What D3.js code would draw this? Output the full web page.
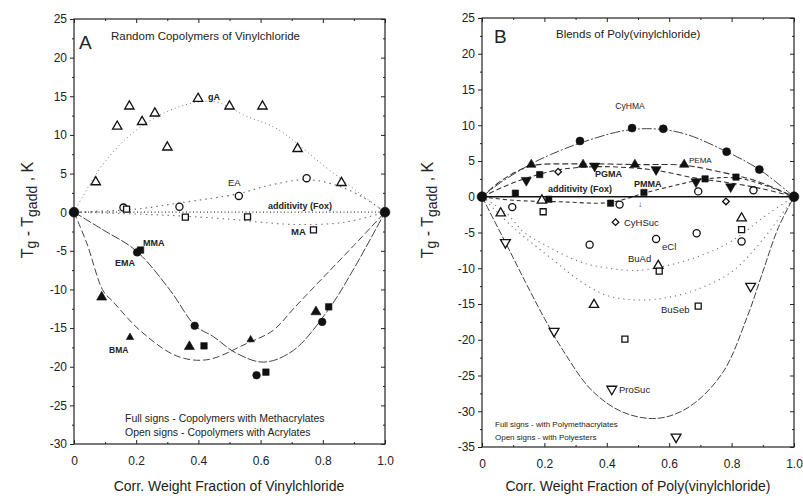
<!DOCTYPE html>
<html>
<head>
<meta charset="utf-8">
<script src="https://cdn.jsdelivr.net/npm/d3@7"></script>
<style>
  body { margin: 0; background: #fff; }
  svg { font-family: "Liberation Sans", Arial, sans-serif; }
  .tick text { font-size: 12px; fill: #222; }
  .domain, .tick line { stroke: #222; }
</style>
</head>
<body>
<div id="chart"></div>
<script>
// ---- shared ticks
const xTicks = [0, 0.2, 0.4, 0.6, 0.8, 1.0];
const xTickLabels = ["0", "0.2", "0.4", "0.6", "0.8", "1.0"];
const xMinor = [0.1, 0.3, 0.5, 0.7, 0.9];

// ---- panel A : random copolymers of vinylchloride
const aYTicks = [25, 20, 15, 10, 5, 0, -5, -10, -15, -20, -25, -30];
const aEnds = [[0, 0], [1, 0]];
const aTriOpen = [[0.07, 3.9], [0.139, 11.1], [0.178, 13.7], [0.219, 11.7], [0.26, 12.8], [0.30, 8.4],
                  [0.399, 14.7], [0.50, 13.7], [0.606, 13.7], [0.719, 8.2], [0.86, 3.8]];
const aCircOpen = [[0.159, 0.6], [0.339, 0.7], [0.53, 2.1], [0.748, 4.4]];
const aSqOpen = [[0.169, 0.4], [0.358, -0.65], [0.558, -0.6], [0.77, -2.3]];
const aCircFill = [[0.203, -5.2], [0.388, -14.7], [0.587, -21.1], [0.798, -14.2]];
const aSqFill = [[0.214, -4.9], [0.418, -17.3], [0.617, -20.7], [0.819, -12.25]];
const aTriFill = [[0.089, -11.0], [0.371, -17.4], [0.778, -12.9]];
const aTriFillSmall = [[0.18, -16.2], [0.568, -16.5]];
// fitted curves
const aCurveGA = [[0, 0], [0.093, 6.2], [0.2, 10.6], [0.335, 13.6], [0.45, 14.3], [0.555, 12.4],
                  [0.652, 10.8], [0.81, 5.8], [0.92, 2.4], [1, 0]];
const aCurveEA = [[0, 0], [0.2, 0.4], [0.34, 1.2], [0.53, 2.4], [0.62, 3.4], [0.75, 4.2], [0.85, 3.4], [0.93, 1.9], [1, 0]];
const aCurveMA = [[0, 0], [0.3, -0.4], [0.5, -0.9], [0.6, -1.3], [0.72, -1.6], [0.87, -1.3], [1, 0]];
const aCurveM1 = [[0, 0], [0.094, -2.3], [0.2, -5.0], [0.309, -10.1], [0.39, -14.7], [0.448, -16.1],
                  [0.52, -18.2], [0.61, -19.4], [0.705, -17.9], [0.82, -12.5], [0.9, -7.3], [1, 0]];
const aCurveM2 = [[0, 0], [0.041, -4.0], [0.094, -10.2], [0.126, -11.6], [0.212, -15.3], [0.33, -18.6],
                  [0.427, -19.1], [0.555, -17.0], [0.64, -15.3], [0.71, -12.3], [0.8, -8.5], [0.9, -4.3], [1, 0]];
const aAdd = [[0, 0], [1, 0]];

// ---- panel B : blends of poly(vinylchloride)
const bYTicks = [25, 20, 15, 10, 5, 0, -5, -10, -15, -20, -25, -30, -35];
const bEnds = [[0, 0], [1, 0]];
const bCyHMA = [[0.314, 7.8], [0.481, 9.6], [0.581, 9.5], [0.784, 6.3], [0.889, 3.8]];
const bPEMA = [[0.158, 4.5], [0.324, 4.5], [0.49, 4.5], [0.648, 4.5]];
const bPGMA = [[0.142, 2.3], [0.361, 4.3], [0.558, 3.8], [0.686, 2.1], [0.797, 1.4]];
const bPMMA = [[0.107, 0.5], [0.185, 3.1], [0.214, -0.35], [0.412, -0.9], [0.519, 0.6], [0.715, 2.5], [0.814, 2.75]];
const bTriOpen = [[0.06, -2.3], [0.192, -0.5], [0.359, -15.1], [0.565, -9.65], [0.832, -3.0]];
const bSqOpen = [[0.196, -2.1], [0.458, -19.9], [0.568, -10.4], [0.693, -15.3], [0.832, -4.6]];
const bCircOpen = [[0.097, -1.45], [0.345, -6.7], [0.441, -1.1], [0.558, -5.9], [0.688, -5.1],
                   [0.693, 0.75], [0.832, -6.25], [0.87, 0.9]];
const bDiaOpen = [[0.244, 3.5], [0.428, -3.55], [0.782, -0.65]];
const bDownOpen = [[0.075, -6.4], [0.231, -18.8], [0.416, -26.9], [0.622, -33.6], [0.861, -12.5]];
const bCurveCyHMA = [[0, 0], [0.06, 2.0], [0.158, 4.6], [0.22, 5.9], [0.314, 7.5], [0.45, 9.2], [0.55, 9.5],
                     [0.65, 8.8], [0.784, 6.3], [0.889, 3.8], [1, 0]];
const bCurvePEMA = [[0, 0], [0.07, 2.5], [0.158, 4.3], [0.3, 4.6], [0.5, 4.5], [0.65, 4.4], [0.75, 3.6], [0.88, 2.2], [1, 0]];
const bCurvePGMA = [[0, 0], [0.07, 1.4], [0.142, 2.6], [0.25, 3.8], [0.361, 4.2], [0.46, 4.1], [0.558, 3.7],
                    [0.686, 2.6], [0.8, 1.9], [0.9, 1.1], [1, 0]];
const bCurvePMMA = [[0, 0], [0.1, -0.5], [0.25, -0.7], [0.41, -0.8], [0.52, 0.5], [0.62, 1.6], [0.72, 2.5],
                    [0.82, 2.6], [0.92, 1.4], [1, 0]];
const bCurveBuAd = [[0, 0], [0.083, -2.5], [0.131, -4.85], [0.2, -6.7], [0.308, -9.0], [0.372, -9.75],
                    [0.5, -10.3], [0.624, -9.3], [0.72, -7.9], [0.8, -6.2], [0.92, -2.3], [1, 0]];
const bCurveBuSeb = [[0, 0], [0.1, -4.3], [0.233, -9.0], [0.308, -11.6], [0.393, -13.7], [0.479, -14.4],
                     [0.58, -14.2], [0.688, -13.0], [0.8, -10.5], [0.9, -6.0], [1, 0]];
const bCurveProSuc = [[0, 0], [0.04, -3.4], [0.08, -6.8], [0.14, -12.0], [0.2, -17.0], [0.26, -21.5],
                      [0.35, -27.0], [0.45, -30.1], [0.56, -31.0], [0.66, -29.5], [0.77, -24.7],
                      [0.85, -16.8], [0.9, -10.5], [0.95, -4.3], [1, 0]];
const bAdd = [[0, 0], [1, 0]];

const W = 803, H = 498;
const svg = d3.select("#chart").append("svg").attr("width", W).attr("height", H);

function panel(px, py, yTicks, yDomain, titleX) {
  const x = d3.scaleLinear().domain([0, 1]).range(px);
  const y = d3.scaleLinear().domain(yDomain).range(py);
  const g = svg.append("g");
  const yMinor = d3.range(yDomain[0] + 2.5, yDomain[1], 5);

  // frame
  g.append("rect").attr("x", px[0]).attr("y", py[1])
    .attr("width", px[1] - px[0]).attr("height", py[0] - py[1])
    .attr("fill", "none").attr("stroke", "#222").attr("stroke-width", 1.2);

  const fmtY = d => String(d);
  g.append("g").attr("transform", `translate(${px[0]},0)`)
    .call(d3.axisLeft(y).tickValues(yTicks).tickFormat(fmtY).tickSize(4).tickPadding(3))
    .call(s => s.select(".domain").remove());
  g.append("g").attr("transform", `translate(${px[0]},0)`)
    .call(d3.axisLeft(y).tickValues(yMinor).tickFormat("").tickSize(2))
    .call(s => s.select(".domain").remove());
  g.append("g").attr("transform", `translate(${px[1]},0)`)
    .call(d3.axisRight(y).tickValues(yTicks).tickFormat("").tickSize(-4))
    .call(s => s.select(".domain").remove());
  g.append("g").attr("transform", `translate(${px[1]},0)`)
    .call(d3.axisRight(y).tickValues(yMinor).tickFormat("").tickSize(-2))
    .call(s => s.select(".domain").remove());

  g.append("g").attr("transform", `translate(0,${py[0]})`)
    .call(d3.axisBottom(x).tickValues(xTicks).tickFormat((d, i) => xTickLabels[i]).tickSize(-4).tickPadding(12))
    .call(s => s.select(".domain").remove());
  g.append("g").attr("transform", `translate(0,${py[0]})`)
    .call(d3.axisBottom(x).tickValues(xMinor).tickFormat("").tickSize(-2))
    .call(s => s.select(".domain").remove());
  g.append("g").attr("transform", `translate(0,${py[1]})`)
    .call(d3.axisTop(x).tickValues(xTicks).tickFormat("").tickSize(-4))
    .call(s => s.select(".domain").remove());
  g.append("g").attr("transform", `translate(0,${py[1]})`)
    .call(d3.axisTop(x).tickValues(xMinor).tickFormat("").tickSize(-2))
    .call(s => s.select(".domain").remove());

  g.selectAll(".tick text").style("font-size", "12px");

  // y title
  const yt = g.append("text")
    .attr("transform", `translate(${titleX},210) rotate(-90)`)
    .attr("text-anchor", "middle").attr("font-size", 16).attr("fill", "#222");
  yt.append("tspan").text("T");
  yt.append("tspan").attr("dy", 3).attr("font-size", 14).text("g");
  yt.append("tspan").attr("dy", -3).text(" - T");
  yt.append("tspan").attr("dy", 4).attr("font-size", 14).text("gadd");
  yt.append("tspan").attr("dy", -4).text(" , K");

  return { g, x, y };
}

const A = panel([74, 385], [444, 19], aYTicks, [-30, 25], 33);
const B = panel([482, 794], [447, 18], bYTicks, [-35, 25], 433);

// x titles
svg.append("text").attr("x", 229).attr("y", 491).attr("text-anchor", "middle")
  .attr("font-size", 14).attr("fill", "#222").text("Corr. Weight Fraction of Vinylchloride");
svg.append("text").attr("x", 638).attr("y", 491).attr("text-anchor", "middle")
  .attr("font-size", 14).attr("fill", "#222").text("Corr. Weight Fraction of Poly(vinylchloride)");

function curve(P, data, dash, width, color) {
  const line = d3.line().x(d => P.x(d[0])).y(d => P.y(d[1])).curve(d3.curveCatmullRom.alpha(0.5));
  P.g.append("path").datum(data).attr("d", line)
    .attr("fill", "none").attr("stroke", color || "#444")
    .attr("stroke-width", width || 1).attr("stroke-dasharray", dash || null);
}

function marks(P, data, type, size, filled, rot) {
  const sym = d3.symbol().type(type).size(size);
  P.g.selectAll(null).data(data).enter().append("path")
    .attr("d", sym)
    .attr("transform", d => `translate(${P.x(d[0])},${P.y(d[1])}) rotate(${rot || 0})`)
    .attr("fill", filled ? "#111" : "#fff")
    .attr("stroke", "#111").attr("stroke-width", filled ? 0.6 : 1.3);
}

function label(P, px, py, txt, size, anchor, weight) {
  P.g.append("text").attr("x", px).attr("y", py).attr("font-size", size)
    .attr("text-anchor", anchor || "start").attr("font-weight", weight || "normal")
    .attr("fill", "#222").text(txt);
}

// ---- panel A drawing
curve(A, aCurveGA, "1,3", 1, "#777");
curve(A, aCurveEA, "1.5,4", 1.1, "#666");
curve(A, aCurveMA, "1.5,4", 1.1, "#777");
curve(A, aAdd, "1,2.5", 1.2, "#444");
curve(A, aCurveM1, "9,2", 1, "#444");
curve(A, aCurveM2, "7,3", 1, "#444");

marks(A, aTriOpen, d3.symbolTriangle, 38, false);
marks(A, aCircOpen, d3.symbolCircle, 40, false);
marks(A, aSqOpen, d3.symbolSquare, 36, false);
marks(A, aCircFill, d3.symbolCircle, 46, true);
marks(A, aSqFill, d3.symbolSquare, 42, true);
marks(A, aTriFill, d3.symbolTriangle, 44, true);
marks(A, aTriFillSmall, d3.symbolTriangle, 24, true);
marks(A, aEnds, d3.symbolCircle, 75, true);

label(A, 79, 49, "A", 19);
label(A, 111, 40, "Random Copolymers of Vinylchloride", 11.5);
label(A, 208, 100, "gA", 9, "start", "bold");
label(A, 228, 186, "EA", 9.5);
label(A, 268, 209, "additivity (Fox)", 9, "start", "bold");
label(A, 291, 235, "MA", 9.5, "start", "bold");
label(A, 143, 246, "MMA", 9, "start", "bold");
label(A, 115, 266, "EMA", 9, "start", "bold");
label(A, 109, 353, "BMA", 8.5, "start", "bold");
label(A, 125, 422, "Full signs - Copolymers with Methacrylates", 10.5);
label(A, 125, 436, "Open signs - Copolymers with Acrylates", 10.5);

// ---- panel B drawing
curve(B, bCurveBuAd, "1.2,4", 1.1, "#777");
curve(B, bCurveBuSeb, "1.2,4", 1.1, "#777");
curve(B, bCurveProSuc, "7,2", 1, "#444");
curve(B, bCurveCyHMA, "10,2,2,2", 1, "#444");
curve(B, bCurvePEMA, "6,3", 1.1, "#333");
curve(B, bCurvePGMA, "5,3", 1.1, "#333");
curve(B, bCurvePMMA, "4,3", 1.1, "#333");
curve(B, bAdd, null, 1.6, "#111");

marks(B, bTriOpen, d3.symbolTriangle, 38, false);
marks(B, bSqOpen, d3.symbolSquare, 36, false);
marks(B, bCircOpen, d3.symbolCircle, 40, false);
marks(B, bDiaOpen, d3.symbolSquare, 22, false, 45);
marks(B, bDownOpen, d3.symbolTriangle, 42, false, 180);
marks(B, bCyHMA, d3.symbolCircle, 50, true);
marks(B, bPEMA, d3.symbolTriangle, 38, true);
marks(B, bPGMA, d3.symbolTriangle, 44, true, 180);
marks(B, bPMMA, d3.symbolSquare, 40, true);
marks(B, bEnds, d3.symbolCircle, 75, true);

label(B, 494, 43, "B", 19);
label(B, 556, 38, "Blends of Poly(vinylchloride)", 11.5);
label(B, 630, 109, "CyHMA", 8.5, "middle");
label(B, 689, 163, "PEMA", 8);
label(B, 595, 177, "PGMA", 9, "start", "bold");
label(B, 634, 187, "PMMA", 9, "start", "bold");
label(B, 548, 192, "additivity (Fox)", 9, "start", "bold");
label(B, 640, 207, "↓", 8, "middle");
label(B, 624, 226, "CyHSuc", 9.5);
label(B, 662, 250, "eCl", 9.5);
label(B, 628, 262, "BuAd", 9.5);
label(B, 661, 313, "BuSeb", 9.5);
label(B, 619, 393, "ProSuc", 9.5);
label(B, 495, 427, "Full signs - with Polymethacrylates", 8);
label(B, 495, 440, "Open signs - with Polyesters", 8);
</script>
</body>
</html>
